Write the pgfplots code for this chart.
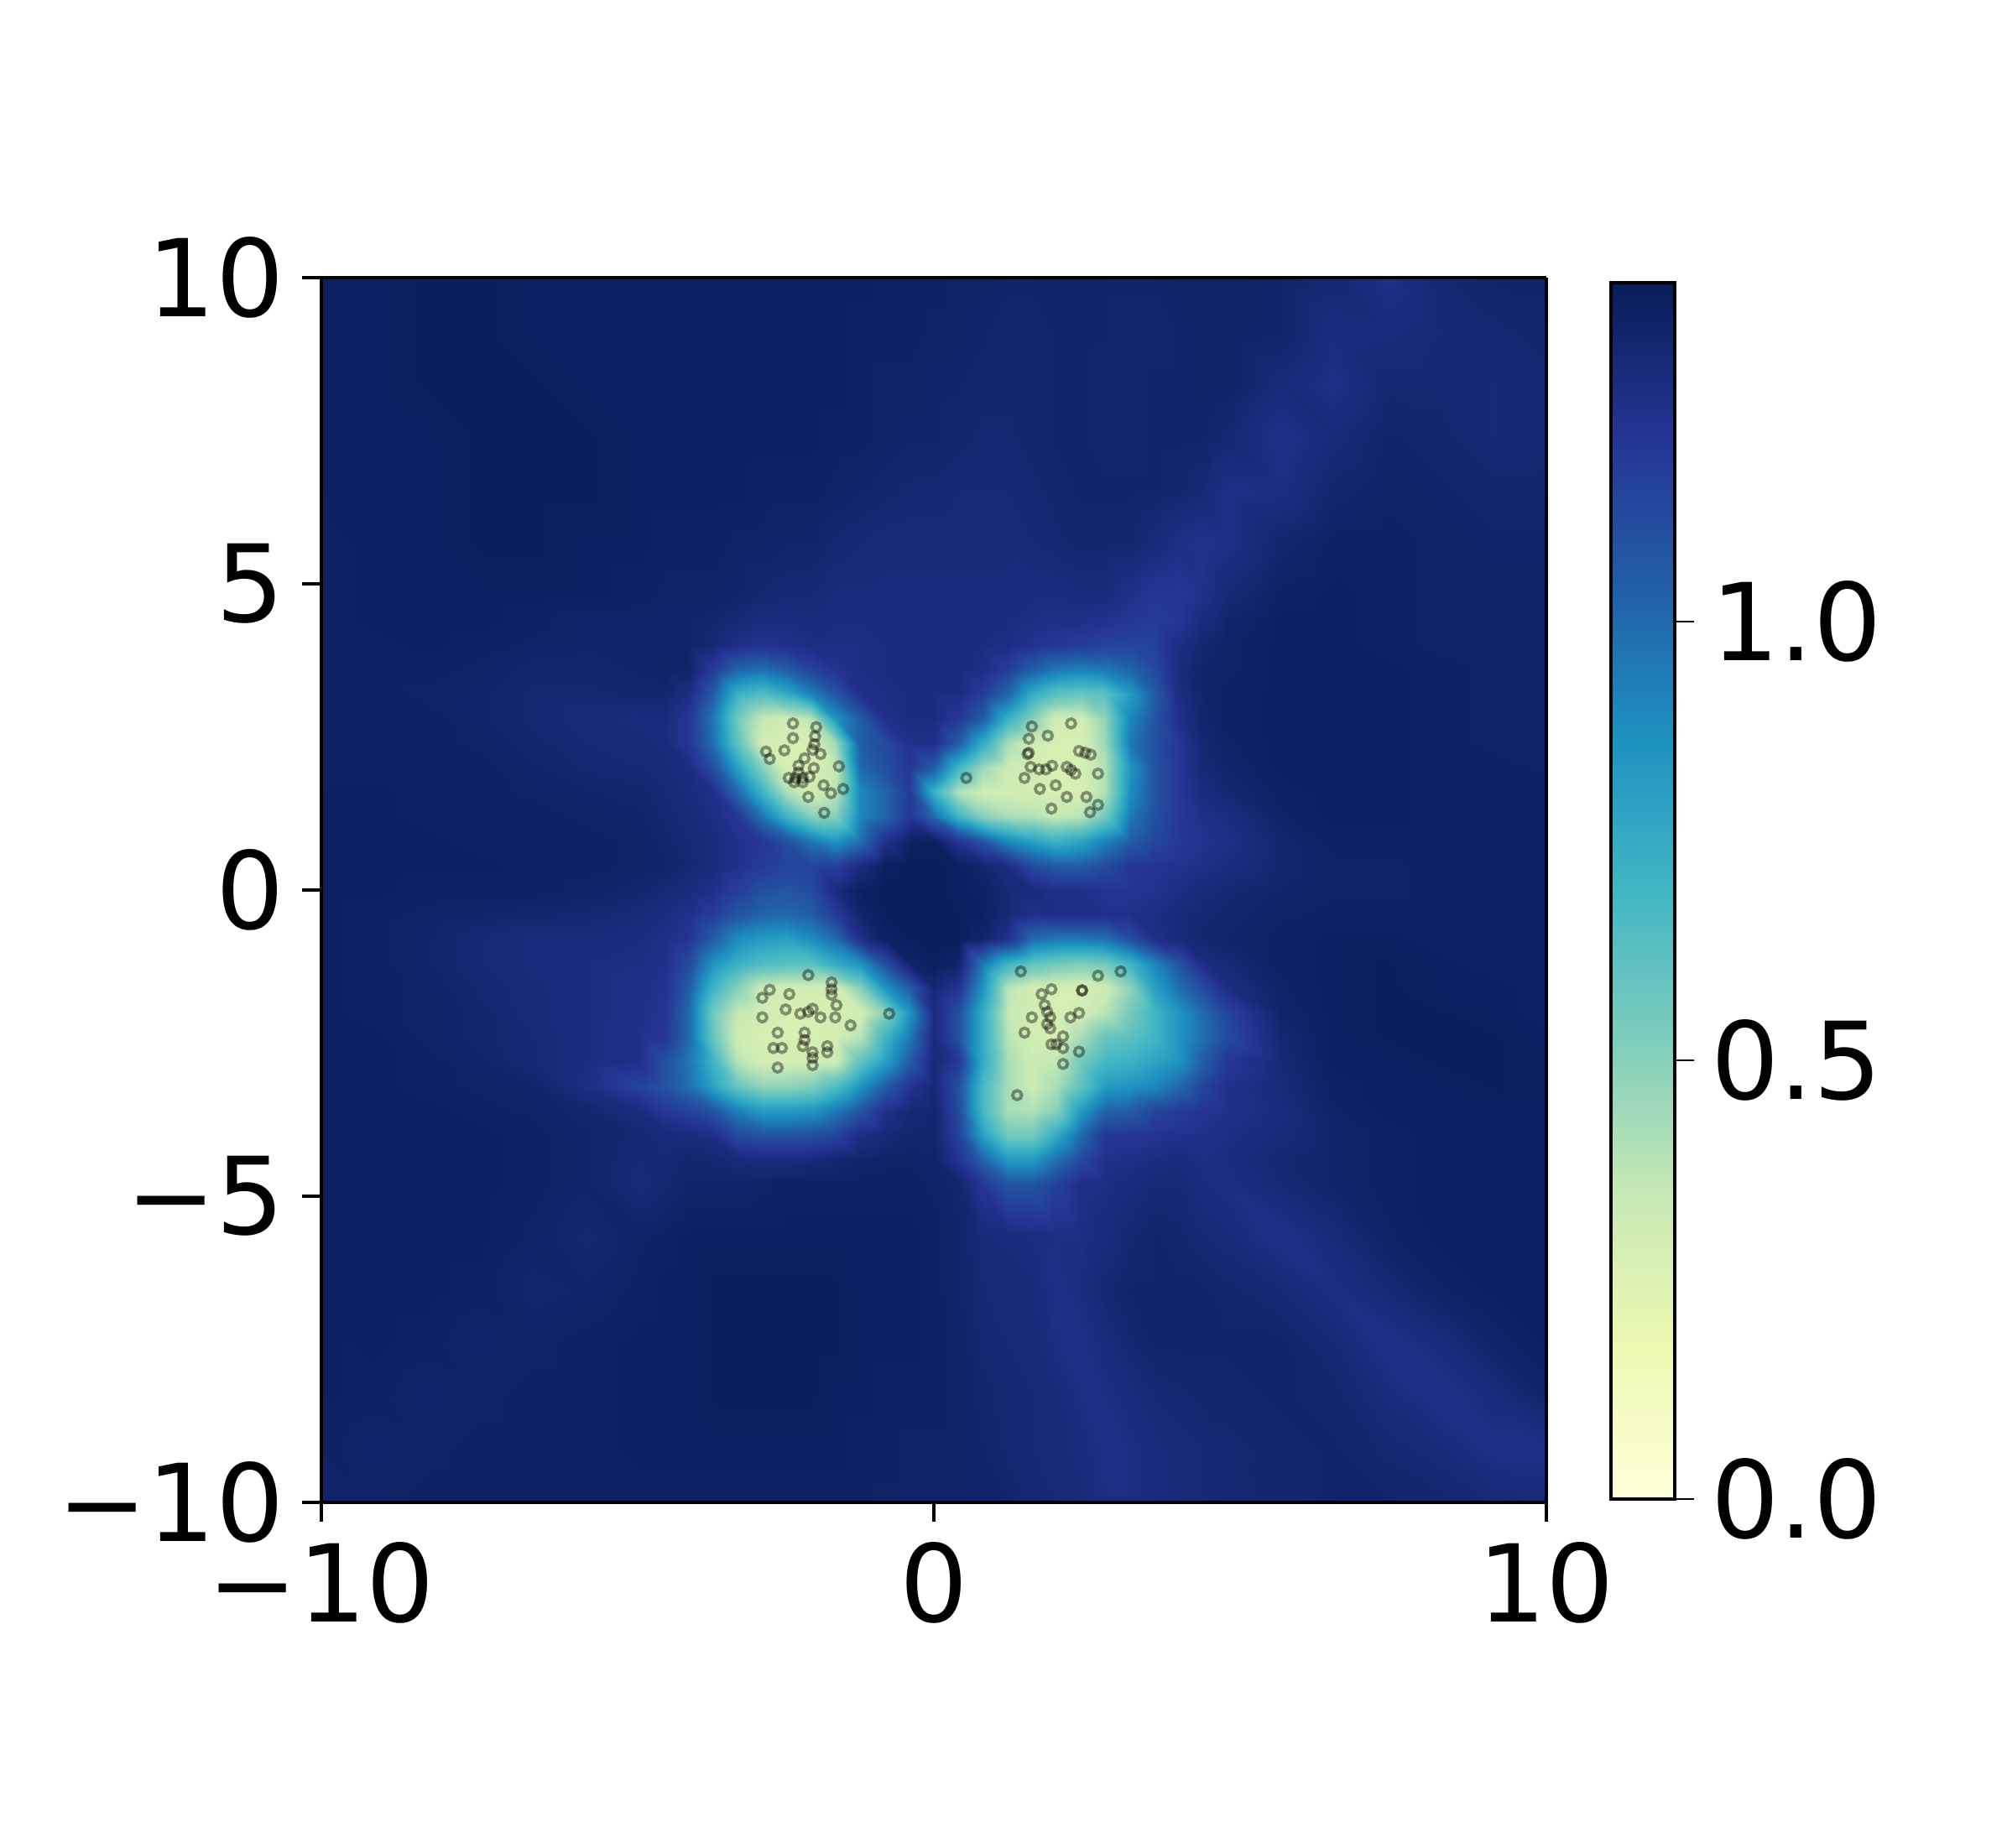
\documentclass[border=0pt]{standalone}
\usepackage{fontspec}
\setmainfont{DejaVu Sans}
\usepackage{pgfplots}
\usepackage{pgfplotstable}
\pgfplotsset{compat=1.18}
\pgfplotstableread[row sep=crcr,header=false]{%
1.36\\1.36\\1.37\\1.37\\1.36\\1.36\\1.36\\1.36\\1.36\\1.36\\1.36\\1.36\\1.36\\1.36\\1.36\\1.36\\1.35\\1.35\\1.35\\1.34\\1.34\\1.33\\1.33\\1.33\\1.33\\1.33\\1.33\\1.33\\1.34\\1.34\\1.34\\1.33\\1.31\\1.25\\1.31\\1.33\\1.33\\%
1.36\\1.36\\1.37\\1.37\\1.36\\1.36\\1.36\\1.36\\1.36\\1.36\\1.36\\1.36\\1.36\\1.36\\1.36\\1.35\\1.35\\1.35\\1.34\\1.34\\1.33\\1.32\\1.32\\1.33\\1.33\\1.33\\1.32\\1.32\\1.33\\1.34\\1.34\\1.33\\1.27\\1.28\\1.30\\1.31\\1.32\\%
1.36\\1.36\\1.37\\1.37\\1.37\\1.36\\1.36\\1.36\\1.36\\1.36\\1.36\\1.36\\1.36\\1.36\\1.36\\1.35\\1.34\\1.34\\1.33\\1.33\\1.32\\1.32\\1.32\\1.33\\1.33\\1.32\\1.32\\1.33\\1.33\\1.34\\1.34\\1.29\\1.25\\1.31\\1.31\\1.30\\1.31\\%
1.36\\1.36\\1.36\\1.37\\1.37\\1.37\\1.36\\1.36\\1.36\\1.36\\1.36\\1.36\\1.36\\1.36\\1.35\\1.35\\1.34\\1.33\\1.33\\1.32\\1.31\\1.31\\1.32\\1.33\\1.33\\1.32\\1.32\\1.33\\1.33\\1.33\\1.31\\1.24\\1.29\\1.33\\1.32\\1.30\\1.31\\%
1.36\\1.36\\1.36\\1.37\\1.37\\1.37\\1.36\\1.36\\1.36\\1.36\\1.36\\1.35\\1.35\\1.35\\1.34\\1.33\\1.32\\1.31\\1.31\\1.30\\1.30\\1.30\\1.31\\1.32\\1.33\\1.33\\1.33\\1.33\\1.32\\1.30\\1.25\\1.26\\1.32\\1.34\\1.33\\1.32\\1.32\\%
1.35\\1.36\\1.36\\1.37\\1.37\\1.36\\1.36\\1.35\\1.35\\1.35\\1.34\\1.34\\1.33\\1.33\\1.31\\1.30\\1.29\\1.29\\1.29\\1.29\\1.29\\1.29\\1.30\\1.31\\1.32\\1.32\\1.32\\1.29\\1.25\\1.23\\1.25\\1.32\\1.35\\1.35\\1.34\\1.33\\1.33\\%
1.35\\1.36\\1.36\\1.36\\1.36\\1.36\\1.35\\1.34\\1.34\\1.34\\1.33\\1.31\\1.30\\1.30\\1.28\\1.28\\1.28\\1.28\\1.28\\1.28\\1.28\\1.28\\1.27\\1.27\\1.28\\1.28\\1.24\\1.20\\1.20\\1.24\\1.30\\1.35\\1.36\\1.35\\1.34\\1.34\\1.34\\%
1.35\\1.36\\1.36\\1.36\\1.35\\1.33\\1.33\\1.33\\1.33\\1.32\\1.30\\1.27\\1.27\\1.28\\1.27\\1.27\\1.27\\1.27\\1.28\\1.28\\1.28\\1.27\\1.26\\1.25\\1.25\\1.23\\1.20\\1.18\\1.20\\1.28\\1.33\\1.36\\1.36\\1.35\\1.34\\1.34\\1.34\\%
}\zA
\pgfplotstableread[row sep=crcr,header=false]{%
1.35\\1.36\\1.36\\1.36\\1.36\\1.36\\1.35\\1.34\\1.34\\1.34\\1.33\\1.31\\1.30\\1.30\\1.28\\1.28\\1.28\\1.28\\1.28\\1.28\\1.28\\1.28\\1.27\\1.27\\1.28\\1.28\\1.24\\1.20\\1.20\\1.24\\1.30\\1.35\\1.36\\1.35\\1.34\\1.34\\1.34\\%
1.35\\1.36\\1.36\\1.36\\1.35\\1.33\\1.33\\1.33\\1.33\\1.32\\1.30\\1.27\\1.27\\1.28\\1.27\\1.27\\1.27\\1.27\\1.28\\1.28\\1.28\\1.27\\1.26\\1.25\\1.25\\1.23\\1.20\\1.18\\1.20\\1.28\\1.33\\1.36\\1.36\\1.35\\1.34\\1.34\\1.34\\%
1.35\\1.35\\1.36\\1.35\\1.34\\1.33\\1.33\\1.33\\1.33\\1.30\\1.25\\1.22\\1.24\\1.26\\1.26\\1.26\\1.27\\1.27\\1.28\\1.28\\1.27\\1.26\\1.23\\1.20\\1.18\\1.15\\1.14\\1.16\\1.26\\1.32\\1.34\\1.36\\1.36\\1.35\\1.34\\1.34\\1.34\\%
1.35\\1.35\\1.35\\1.34\\1.32\\1.32\\1.33\\1.34\\1.33\\1.18\\1.02\\.98\\1.05\\1.15\\1.22\\1.26\\1.27\\1.27\\1.28\\1.28\\1.26\\1.18\\1.05\\.95\\.92\\.95\\1.02\\1.12\\1.28\\1.33\\1.34\\1.36\\1.36\\1.36\\1.35\\1.34\\1.34\\%
1.35\\1.35\\1.34\\1.33\\1.31\\1.31\\1.32\\1.32\\1.26\\1.05\\.72\\.65\\.75\\.92\\1.08\\1.24\\1.26\\1.27\\1.27\\1.27\\1.18\\1.02\\.75\\.62\\.58\\.62\\.82\\1.05\\1.26\\1.33\\1.35\\1.36\\1.36\\1.36\\1.35\\1.34\\1.34\\%
1.35\\1.35\\1.35\\1.33\\1.31\\1.29\\1.28\\1.28\\1.20\\.95\\.55\\.35\\.32\\.38\\.85\\1.05\\1.24\\1.27\\1.27\\1.20\\1.05\\.72\\.50\\.30\\.30\\.48\\.90\\1.08\\1.25\\1.32\\1.35\\1.36\\1.36\\1.36\\1.35\\1.34\\1.34\\%
1.35\\1.35\\1.35\\1.34\\1.32\\1.30\\1.29\\1.28\\1.20\\.98\\.60\\.30\\.28\\.28\\.45\\1.05\\1.12\\1.24\\1.25\\1.05\\.75\\.42\\.30\\.28\\.28\\.45\\.95\\1.10\\1.20\\1.31\\1.34\\1.36\\1.36\\1.36\\1.35\\1.34\\1.34\\%
1.35\\1.35\\1.35\\1.35\\1.33\\1.31\\1.30\\1.29\\1.27\\1.10\\.80\\.50\\.28\\.28\\.35\\1.00\\1.10\\1.20\\1.05\\.70\\.45\\.33\\.30\\.28\\.28\\.40\\.85\\1.08\\1.20\\1.30\\1.33\\1.36\\1.36\\1.36\\1.35\\1.35\\1.34\\%
}\zB
\pgfplotstableread[row sep=crcr,header=false]{%
1.35\\1.35\\1.35\\1.34\\1.32\\1.30\\1.29\\1.28\\1.20\\.98\\.60\\.30\\.28\\.28\\.45\\1.05\\1.12\\1.24\\1.25\\1.05\\.75\\.42\\.30\\.28\\.28\\.45\\.95\\1.10\\1.20\\1.31\\1.34\\1.36\\1.36\\1.36\\1.35\\1.34\\1.34\\%
1.35\\1.35\\1.35\\1.35\\1.33\\1.31\\1.30\\1.29\\1.27\\1.10\\.80\\.50\\.28\\.28\\.35\\1.00\\1.10\\1.20\\1.05\\.70\\.45\\.33\\.30\\.28\\.28\\.40\\.85\\1.08\\1.20\\1.30\\1.33\\1.36\\1.36\\1.36\\1.35\\1.35\\1.34\\%
1.36\\1.36\\1.35\\1.35\\1.34\\1.33\\1.32\\1.30\\1.28\\1.24\\1.00\\.70\\.40\\.30\\.38\\.90\\1.02\\1.18\\.72\\.40\\.32\\.30\\.30\\.28\\.28\\.40\\.88\\1.08\\1.20\\1.28\\1.31\\1.35\\1.36\\1.36\\1.35\\1.35\\1.35\\%
1.36\\1.36\\1.35\\1.35\\1.35\\1.34\\1.33\\1.31\\1.29\\1.26\\1.20\\.95\\.70\\.50\\.50\\.90\\1.02\\1.20\\1.00\\.70\\.50\\.42\\.40\\.35\\.38\\.55\\.95\\1.10\\1.20\\1.25\\1.27\\1.34\\1.36\\1.36\\1.35\\1.35\\1.35\\%
1.36\\1.36\\1.36\\1.35\\1.35\\1.35\\1.34\\1.32\\1.30\\1.28\\1.24\\1.20\\1.10\\.95\\.85\\.98\\1.24\\1.35\\1.36\\1.22\\1.08\\.90\\.80\\.72\\.78\\.92\\1.05\\1.14\\1.20\\1.23\\1.25\\1.32\\1.35\\1.35\\1.35\\1.35\\1.35\\%
1.36\\1.36\\1.36\\1.36\\1.35\\1.35\\1.34\\1.33\\1.31\\1.28\\1.24\\1.18\\1.15\\1.15\\1.16\\1.28\\1.36\\1.38\\1.38\\1.36\\1.32\\1.26\\1.12\\1.05\\1.05\\1.12\\1.20\\1.22\\1.23\\1.25\\1.27\\1.32\\1.34\\1.34\\1.35\\1.35\\1.35\\%
1.36\\1.36\\1.35\\1.35\\1.35\\1.34\\1.32\\1.30\\1.28\\1.24\\1.17\\1.10\\1.08\\1.12\\1.28\\1.36\\1.38\\1.38\\1.38\\1.36\\1.35\\1.30\\1.28\\1.24\\1.24\\1.22\\1.22\\1.23\\1.26\\1.29\\1.31\\1.33\\1.34\\1.34\\1.35\\1.35\\1.35\\%
1.36\\1.35\\1.34\\1.33\\1.32\\1.31\\1.29\\1.27\\1.24\\1.17\\1.08\\1.02\\1.00\\1.05\\1.18\\1.32\\1.37\\1.38\\1.38\\1.37\\1.36\\1.30\\1.24\\1.26\\1.26\\1.24\\1.24\\1.26\\1.29\\1.31\\1.32\\1.34\\1.35\\1.35\\1.35\\1.35\\1.35\\%
}\zC
\pgfplotstableread[row sep=crcr,header=false]{%
1.36\\1.36\\1.35\\1.35\\1.35\\1.34\\1.32\\1.30\\1.28\\1.24\\1.17\\1.10\\1.08\\1.12\\1.28\\1.36\\1.38\\1.38\\1.38\\1.36\\1.35\\1.30\\1.28\\1.24\\1.24\\1.22\\1.22\\1.23\\1.26\\1.29\\1.31\\1.33\\1.34\\1.34\\1.35\\1.35\\1.35\\%
1.36\\1.35\\1.34\\1.33\\1.32\\1.31\\1.29\\1.27\\1.24\\1.17\\1.08\\1.02\\1.00\\1.05\\1.18\\1.32\\1.37\\1.38\\1.38\\1.37\\1.36\\1.30\\1.24\\1.26\\1.26\\1.24\\1.24\\1.26\\1.29\\1.31\\1.32\\1.34\\1.35\\1.35\\1.35\\1.35\\1.35\\%
1.36\\1.35\\1.33\\1.30\\1.28\\1.28\\1.27\\1.25\\1.21\\1.05\\.88\\.82\\.80\\.88\\1.00\\1.25\\1.35\\1.37\\1.38\\1.38\\1.33\\1.24\\1.00\\.95\\.95\\.98\\1.10\\1.25\\1.29\\1.32\\1.33\\1.35\\1.36\\1.36\\1.35\\1.35\\1.35\\%
1.36\\1.35\\1.33\\1.30\\1.28\\1.27\\1.26\\1.24\\1.12\\.85\\.72\\.65\\.62\\.62\\.75\\.85\\1.10\\1.33\\1.37\\1.33\\.95\\.70\\.60\\.55\\.52\\.55\\.70\\.90\\1.08\\1.26\\1.30\\1.35\\1.36\\1.37\\1.36\\1.35\\1.35\\%
1.36\\1.35\\1.34\\1.31\\1.29\\1.27\\1.25\\1.23\\1.05\\.70\\.50\\.32\\.30\\.30\\.30\\.50\\.85\\1.05\\1.30\\1.22\\.85\\.38\\.30\\.28\\.28\\.32\\.48\\.80\\.98\\1.12\\1.26\\1.34\\1.36\\1.37\\1.36\\1.36\\1.35\\%
1.36\\1.35\\1.34\\1.32\\1.29\\1.27\\1.25\\1.22\\1.00\\.55\\.35\\.30\\.28\\.28\\.28\\.30\\.50\\.85\\1.28\\1.10\\.75\\.35\\.30\\.28\\.30\\.38\\.55\\.70\\.85\\1.00\\1.15\\1.33\\1.36\\1.37\\1.37\\1.36\\1.35\\%
1.36\\1.36\\1.34\\1.32\\1.30\\1.27\\1.24\\1.20\\1.00\\.58\\.32\\.28\\.28\\.28\\.30\\.38\\.70\\.95\\1.28\\1.10\\.75\\.38\\.30\\.28\\.42\\.58\\.62\\.70\\.85\\.98\\1.12\\1.31\\1.36\\1.37\\1.37\\1.37\\1.36\\%
1.36\\1.36\\1.35\\1.33\\1.30\\1.27\\1.24\\1.10\\.95\\.70\\.38\\.30\\.30\\.30\\.32\\.60\\.80\\1.05\\1.30\\1.20\\.75\\.42\\.33\\.35\\.55\\.68\\.72\\.78\\.85\\1.05\\1.20\\1.30\\1.36\\1.36\\1.37\\1.37\\1.36\\%
}\zD
\pgfplotstableread[row sep=crcr,header=false]{%
1.36\\1.36\\1.34\\1.32\\1.30\\1.27\\1.24\\1.20\\1.00\\.58\\.32\\.28\\.28\\.28\\.30\\.38\\.70\\.95\\1.28\\1.10\\.75\\.38\\.30\\.28\\.42\\.58\\.62\\.70\\.85\\.98\\1.12\\1.31\\1.36\\1.37\\1.37\\1.37\\1.36\\%
1.36\\1.36\\1.35\\1.33\\1.30\\1.27\\1.24\\1.10\\.95\\.70\\.38\\.30\\.30\\.30\\.32\\.60\\.80\\1.05\\1.30\\1.20\\.75\\.42\\.33\\.35\\.55\\.68\\.72\\.78\\.85\\1.05\\1.20\\1.30\\1.36\\1.36\\1.37\\1.37\\1.36\\%
1.36\\1.36\\1.35\\1.34\\1.33\\1.26\\1.15\\1.08\\.98\\.78\\.58\\.48\\.48\\.52\\.65\\.85\\1.05\\1.22\\1.30\\1.10\\.68\\.42\\.33\\.42\\.60\\.82\\.85\\.90\\1.00\\1.15\\1.24\\1.29\\1.35\\1.36\\1.36\\1.37\\1.36\\%
1.36\\1.36\\1.36\\1.35\\1.34\\1.32\\1.27\\1.20\\1.15\\1.08\\.92\\.82\\.82\\.85\\.95\\1.08\\1.24\\1.30\\1.32\\1.12\\.68\\.42\\.40\\.50\\.82\\1.02\\1.05\\1.14\\1.18\\1.22\\1.24\\1.28\\1.34\\1.36\\1.36\\1.36\\1.36\\%
1.36\\1.36\\1.36\\1.36\\1.35\\1.33\\1.31\\1.29\\1.28\\1.25\\1.12\\1.08\\1.08\\1.10\\1.15\\1.26\\1.30\\1.32\\1.32\\1.15\\.80\\.55\\.55\\.75\\1.00\\1.20\\1.20\\1.22\\1.24\\1.24\\1.26\\1.29\\1.33\\1.35\\1.36\\1.36\\1.36\\%
1.36\\1.36\\1.36\\1.36\\1.35\\1.33\\1.30\\1.30\\1.32\\1.31\\1.29\\1.28\\1.28\\1.29\\1.31\\1.33\\1.34\\1.34\\1.33\\1.22\\1.02\\.82\\.82\\.98\\1.12\\1.24\\1.25\\1.27\\1.28\\1.26\\1.27\\1.31\\1.33\\1.35\\1.36\\1.36\\1.36\\%
1.36\\1.36\\1.36\\1.36\\1.35\\1.33\\1.29\\1.31\\1.33\\1.33\\1.33\\1.34\\1.35\\1.35\\1.35\\1.35\\1.35\\1.35\\1.34\\1.32\\1.20\\1.08\\1.08\\1.16\\1.25\\1.26\\1.28\\1.30\\1.30\\1.27\\1.26\\1.30\\1.33\\1.35\\1.36\\1.36\\1.36\\%
1.36\\1.36\\1.36\\1.36\\1.34\\1.31\\1.34\\1.35\\1.36\\1.36\\1.36\\1.36\\1.36\\1.36\\1.36\\1.36\\1.36\\1.36\\1.35\\1.33\\1.29\\1.28\\1.27\\1.26\\1.26\\1.28\\1.31\\1.33\\1.32\\1.30\\1.29\\1.24\\1.29\\1.34\\1.36\\1.36\\1.36\\%
}\zE
\pgfplotstableread[row sep=crcr,header=false]{%
1.36\\1.36\\1.36\\1.36\\1.35\\1.33\\1.29\\1.31\\1.33\\1.33\\1.33\\1.34\\1.35\\1.35\\1.35\\1.35\\1.35\\1.35\\1.34\\1.32\\1.20\\1.08\\1.08\\1.16\\1.25\\1.26\\1.28\\1.30\\1.30\\1.27\\1.26\\1.30\\1.33\\1.35\\1.36\\1.36\\1.36\\%
1.36\\1.36\\1.36\\1.36\\1.34\\1.31\\1.34\\1.35\\1.36\\1.36\\1.36\\1.36\\1.36\\1.36\\1.36\\1.36\\1.36\\1.36\\1.35\\1.33\\1.29\\1.28\\1.27\\1.26\\1.26\\1.28\\1.31\\1.33\\1.32\\1.30\\1.29\\1.24\\1.29\\1.34\\1.36\\1.36\\1.36\\%
1.36\\1.36\\1.36\\1.35\\1.32\\1.33\\1.35\\1.36\\1.36\\1.37\\1.37\\1.37\\1.37\\1.37\\1.37\\1.36\\1.36\\1.36\\1.35\\1.33\\1.30\\1.30\\1.29\\1.25\\1.27\\1.31\\1.33\\1.33\\1.33\\1.33\\1.32\\1.30\\1.26\\1.30\\1.34\\1.36\\1.36\\%
1.36\\1.36\\1.35\\1.33\\1.34\\1.35\\1.36\\1.36\\1.36\\1.37\\1.37\\1.37\\1.37\\1.37\\1.37\\1.36\\1.36\\1.36\\1.35\\1.34\\1.31\\1.30\\1.30\\1.26\\1.25\\1.28\\1.31\\1.33\\1.33\\1.33\\1.33\\1.33\\1.30\\1.24\\1.28\\1.33\\1.36\\%
1.36\\1.35\\1.33\\1.34\\1.35\\1.35\\1.36\\1.36\\1.36\\1.37\\1.37\\1.37\\1.37\\1.37\\1.36\\1.36\\1.35\\1.35\\1.35\\1.34\\1.32\\1.31\\1.30\\1.29\\1.26\\1.26\\1.28\\1.30\\1.31\\1.32\\1.32\\1.33\\1.32\\1.28\\1.24\\1.28\\1.33\\%
1.35\\1.33\\1.34\\1.35\\1.35\\1.35\\1.36\\1.36\\1.36\\1.36\\1.36\\1.36\\1.36\\1.36\\1.36\\1.35\\1.35\\1.34\\1.34\\1.34\\1.33\\1.31\\1.30\\1.29\\1.28\\1.25\\1.26\\1.28\\1.29\\1.30\\1.31\\1.32\\1.33\\1.31\\1.29\\1.25\\1.25\\%
1.34\\1.34\\1.35\\1.35\\1.35\\1.35\\1.35\\1.35\\1.35\\1.35\\1.35\\1.35\\1.35\\1.35\\1.35\\1.35\\1.34\\1.34\\1.34\\1.34\\1.33\\1.33\\1.31\\1.30\\1.29\\1.26\\1.26\\1.28\\1.29\\1.30\\1.31\\1.32\\1.33\\1.33\\1.32\\1.30\\1.29\\%
1.34\\1.34\\1.35\\1.35\\1.35\\1.35\\1.35\\1.35\\1.35\\1.35\\1.35\\1.35\\1.35\\1.35\\1.35\\1.35\\1.34\\1.34\\1.34\\1.34\\1.33\\1.33\\1.31\\1.30\\1.29\\1.26\\1.26\\1.28\\1.29\\1.30\\1.31\\1.32\\1.33\\1.33\\1.32\\1.30\\1.29\\%
}\zF
\pgfplotstableread{
-2.30 2.72
-1.92 2.66
-1.94 2.51
-2.30 2.48
-1.95 2.38
-2.44 2.28
-2.74 2.26
-2.68 2.14
-1.85 2.22
-1.98 2.29
-2.11 2.15
-1.55 2.02
-1.96 1.99
-2.21 2.03
-2.21 1.92
-2.37 1.83
-2.26 1.83
-2.14 1.83
-2.03 1.85
-2.28 1.76
-2.14 1.76
-1.80 1.71
-1.68 1.58
-1.48 1.65
-2.05 1.52
-1.79 1.26
0.53 1.83
1.60 2.67
1.86 2.52
2.24 2.72
1.55 2.47
1.55 2.24
1.53 2.22
2.37 2.27
2.56 2.21
2.47 2.24
1.58 2.01
1.72 1.97
1.83 1.97
1.93 2.03
2.17 2.01
2.24 1.96
2.31 1.90
2.68 1.90
1.48 1.83
1.99 1.71
1.73 1.65
2.17 1.52
2.49 1.52
1.92 1.33
2.68 1.39
2.55 1.27
-2.05 -1.39
-1.67 -1.51
-1.67 -1.62
-1.67 -1.71
-2.68 -1.63
-2.80 -1.76
-2.36 -1.70
-1.59 -1.88
-2.42 -1.95
-1.98 -1.94
-2.18 -2.02
-2.05 -1.99
-1.85 -2.08
-1.61 -2.08
-2.80 -2.08
-1.36 -2.21
-0.73 -2.02
-2.55 -2.33
-2.11 -2.33
-2.11 -2.45
-2.14 -2.55
-2.62 -2.58
-2.48 -2.58
-1.74 -2.55
-1.74 -2.65
-1.98 -2.65
-1.98 -2.86
-2.55 -2.90
-1.98 -2.74
1.42 -1.33
2.68 -1.40
3.05 -1.33
1.92 -1.62
1.76 -1.70
2.42 -1.64
2.42 -1.64
1.81 -1.88
1.85 -1.99
1.90 -2.08
1.85 -2.19
1.90 -2.26
1.60 -2.08
1.48 -2.33
2.23 -2.08
2.37 -2.01
2.11 -2.39
1.92 -2.52
2.00 -2.52
2.11 -2.58
2.37 -2.64
2.11 -2.84
1.36 -3.35
}\pts
\begin{document}
\begin{tikzpicture}
\path[use as bounding box] (0,0) rectangle (598pt,550.75pt);
\begin{axis}[
  at={(95.75pt,103pt)}, anchor=south west,
  scale only axis, width=365pt, height=365pt,
  view={0}{90},
  xmin=-10, xmax=10, ymin=-10, ymax=10,
  axis line style={line width=0.9pt},
  tick style={black, line width=0.9pt},
  tick align=outside, major tick length=5.75pt,
  xtick pos=bottom, ytick pos=left,
  xtick={-10,0,10}, xticklabels={−10,0,10},
  ytick={-10,-5,0,5,10}, yticklabels={−10,−5,0,5,10},
  ztick=\empty,
  every tick label/.append style={font=\fontsize{32}{32}\selectfont},
  xticklabel style={inner sep=0pt, yshift=-6pt},
  yticklabel style={inner sep=0pt, xshift=-5.1pt},
  declare function={gx(\t)=0.4*max(-12,min(12,\t))+0.866667*(\t-max(-12,min(12,\t)));},
  colormap={ygb}{rgb255=(255,255,217) rgb255=(237,248,177) rgb255=(199,233,180) rgb255=(127,205,187) rgb255=(65,182,196) rgb255=(29,145,192) rgb255=(34,94,168) rgb255=(37,52,148) rgb255=(8,29,88)},
  point meta min=0, point meta max=1.386,
  colorbar,
  colorbar/width=19pt,
  colorbar style={
    at={(parent axis.south east)}, anchor=south west,
    xshift=10.75pt, yshift=1pt,
    width=19pt, height=362.5pt,
    ytick={0,0.5,1}, yticklabels={0.0,0.5,1.0},
    axis line style={line width=0.9pt},
    tick style={black, line width=0.6pt},
    tick align=outside, ytick pos=right,
    major tick length=5.75pt,
    yticklabel style={inner sep=0pt, xshift=4.8pt, font=\fontsize{32}{32}\selectfont},
  },
  patchpiece/.style={surf, shader=interp, mesh/cols=37, mesh/rows=#1, mesh/ordering=x varies},
]
\addplot3[patchpiece=8] table[x index=0, y index=0, z index=0, x expr={gx(mod(\coordindex,37)-18)}, y expr={-gx(floor(\coordindex/37)-18)}] {\zA};
\addplot3[patchpiece=8] table[x index=0, y index=0, z index=0, x expr={gx(mod(\coordindex,37)-18)}, y expr={-gx(floor(\coordindex/37)+6-18)}] {\zB};
\addplot3[patchpiece=8] table[x index=0, y index=0, z index=0, x expr={gx(mod(\coordindex,37)-18)}, y expr={-gx(floor(\coordindex/37)+12-18)}] {\zC};
\addplot3[patchpiece=8] table[x index=0, y index=0, z index=0, x expr={gx(mod(\coordindex,37)-18)}, y expr={-gx(floor(\coordindex/37)+18-18)}] {\zD};
\addplot3[patchpiece=8] table[x index=0, y index=0, z index=0, x expr={gx(mod(\coordindex,37)-18)}, y expr={-gx(floor(\coordindex/37)+24-18)}] {\zE};
\addplot3[patchpiece=8] table[x index=0, y index=0, z index=0, x expr={gx(mod(\coordindex,37)-18)}, y expr={-gx(floor(\coordindex/37)+30-18)}] {\zF};
\addplot3[only marks, mark=o, mark size=1.35pt, mark options={draw=black, draw opacity=0.4, line width=0.95pt}]
  table[x index=0, y index=1, z index=0, z expr=2] {\pts};
\end{axis}
\end{tikzpicture}
\end{document}
